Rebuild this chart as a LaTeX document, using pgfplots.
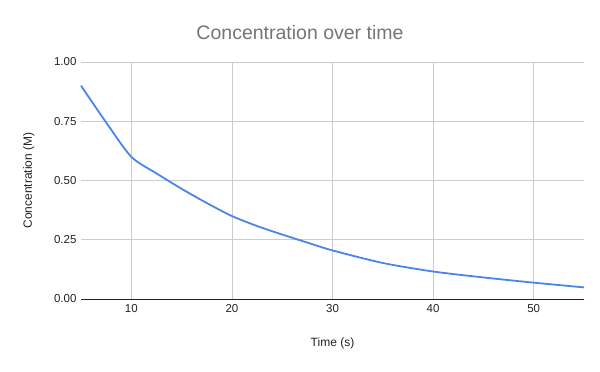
\documentclass[border=0pt]{standalone}
\usepackage{fontspec}
\setmainfont{Liberation Sans}
\usepackage{pgfplots}
\pgfplotsset{compat=1.18}
\definecolor{lineblue}{HTML}{4A86E8}
\definecolor{gridgray}{HTML}{CCCCCC}
\definecolor{titlegray}{HTML}{757575}
\definecolor{textdark}{HTML}{222222}
\begin{document}
\begin{tikzpicture}[x=1bp,y=1bp]
\useasboundingbox (0,0) rectangle (600,371);
\node[font=\fontsize{19.5bp}{22bp}\selectfont, text=titlegray, anchor=base] at (300,332) {Concentration over time};
\begin{axis}[
  at={(81bp,72bp)}, anchor=south west,
  scale only axis, width=503bp, height=237bp,
  xmin=5, xmax=55, ymin=0, ymax=1,
  xtick={10,20,30,40,50},
  ytick={0,0.25,0.5,0.75,1},
  yticklabel style={/pgf/number format/fixed, /pgf/number format/fixed zerofill, /pgf/number format/precision=2, xshift=-1bp},
  /pgf/number format/assume math mode=true,
  ticklabel style={font=\fontsize{11.5bp}{13bp}\selectfont, text=textdark},
  xticklabel style={yshift=-2bp},
  grid=major,
  major grid style={gridgray, line width=0.8bp},
  axis x line*=bottom,
  axis y line*=left,
  x axis line style={textdark, line width=1bp, -},
  y axis line style={draw=none},
  major tick length=0pt,
  tick style={draw=none},
  xlabel={Time (s)},
  ylabel={Concentration (M)},
  label style={font=\fontsize{12bp}{14bp}\selectfont, text=textdark},
  xlabel style={at={(axis description cs:0.5,0)}, anchor=base, yshift=-47bp},
  ylabel style={at={(axis description cs:0,0.5)}, anchor=base, rotate=0, yshift=49bp},
  clip=false,
]
\addplot[lineblue, line width=1.8bp, smooth, tension=0.45] coordinates {
(5,0.9) (7.5,0.745) (10,0.6) (12.5,0.53) (15,0.465) (17.5,0.405) (20,0.35) (22.5,0.308) (25,0.272) (27.5,0.238) (30,0.205) (35,0.152) (40,0.116) (45,0.091) (50,0.069) (55,0.049)
};
\end{axis}
\end{tikzpicture}
\end{document}
